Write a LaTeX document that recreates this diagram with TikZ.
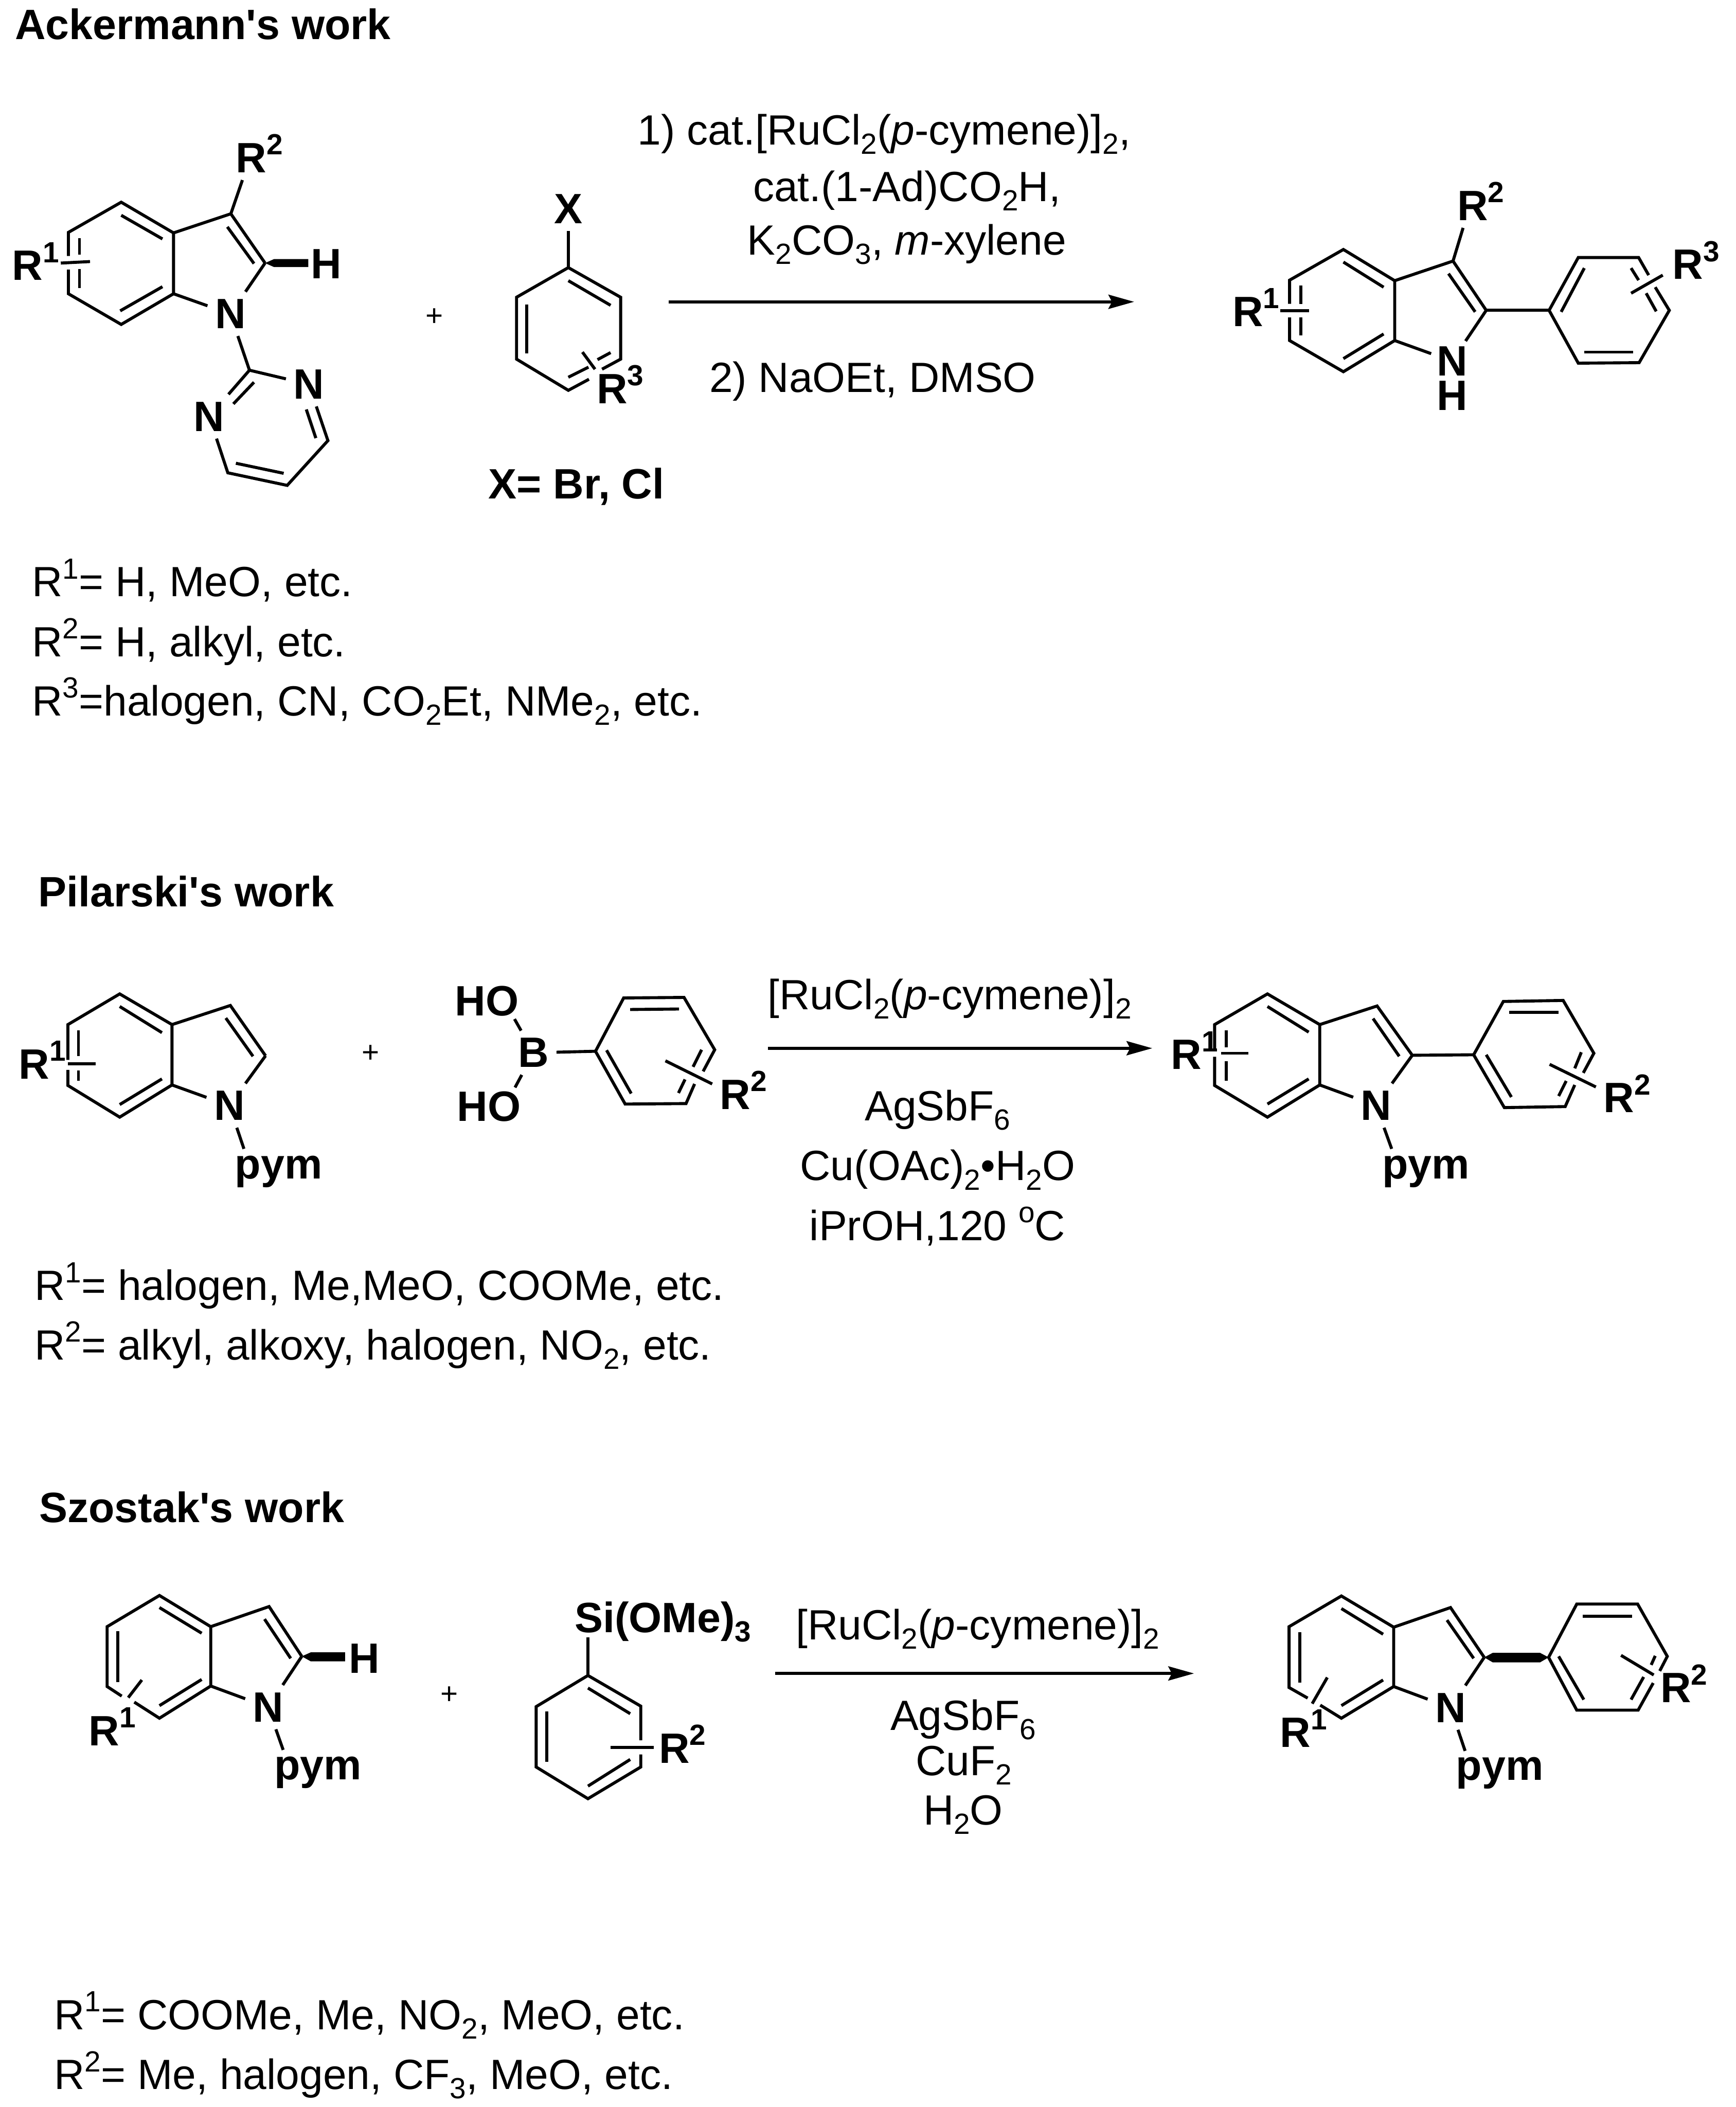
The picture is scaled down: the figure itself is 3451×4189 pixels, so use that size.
\documentclass[tikz,border=0pt]{standalone}
\usepackage{fontspec}
\setmainfont{Liberation Sans}
\usetikzlibrary{arrows.meta}

\newcommand{\chemplain}{\fontsize{23.9}{28}\selectfont}
\newcommand{\chembold}{\fontsize{24}{28}\selectfont\bfseries}
\newcommand{\subs}[1]{\raisebox{-0.22em}{\fontsize{16.5}{18}\selectfont #1}}
\newcommand{\sups}[1]{\raisebox{0.42em}{\fontsize{16.5}{18}\selectfont #1}}

\begin{document}
\begin{tikzpicture}[x=0.01cm,y=-0.01cm,line width=0.6mm,
  bond/.style={line join=miter},
  rxnarrow/.style={-{Stealth[length=0.51cm,width=0.28cm,inset=0.07cm]}},
  atom/.style={font=\chembold,text height=0.58cm,text depth=0cm,inner sep=0.12cm},
  heading/.style={font=\chembold,anchor=base west,inner sep=0pt},
  group/.style={font=\chembold,anchor=base,inner sep=0pt},
  reagent/.style={font=\chemplain,anchor=base,inner sep=0pt},
  note/.style={font=\chemplain,anchor=base west,inner sep=0pt},
  plus/.style={font=\fontsize{17}{20}\selectfont,inner sep=0pt}]

\useasboundingbox (0,0) rectangle (3451,4189);

\node[heading] (nodeHeadA) at (27,78) {Ackermann\textquotesingle s work};
\node[heading] (nodeHeadB) at (73,1802) {Pilarski\textquotesingle s work};
\node[heading] (nodeHeadC) at (75,3027) {Szostak\textquotesingle s work};

\coordinate (a1) at (241,402); \coordinate (b1) at (345,463); \coordinate (c1) at (345,584);
\coordinate (d1) at (241,645); \coordinate (e1) at (136,584); \coordinate (f1) at (136,462);
\coordinate (g1) at (459,425); \coordinate (h1) at (527,523);
\node[atom] (nodeN1) at (458,624) {N};
\node[atom] (nodeH1) at (649,525) {H};
\node[atom] (nodeR1a) at (71,528) {R\sups{1}};
\node[atom] (nodeR2a) at (516,314) {R\sups{2}};
\coordinate (r2a) at (482,358);
\draw[bond] (136,509) -- (f1) -- (a1) -- (b1) -- (c1) -- (d1) -- (e1) -- (136,536);
\draw[bond] (b1) -- (g1) -- (h1);
\draw[bond] (h1) -- (nodeN1);
\draw[bond] (c1) -- (nodeN1);
\draw[bond] (g1) -- (r2a);
\draw[bond] (241,428) -- (323,475);
\draw[bond] (239,618) -- (323,570);
\draw[bond] (158,474) -- (158,506);
\draw[bond] (158,535) -- (158,573);
\draw[bond] (452,451) -- (505,524);
\draw[bond] (121,523) -- (179,520);
\fill (h1) -- (545,515) -- (613,515) -- (613,531) -- (545,531) -- cycle;

\coordinate (p1) at (496,736); \coordinate (p2) at (652,876); \coordinate (p3) at (571,965); \coordinate (p4) at (453,940);
\node[atom] (nodeN2) at (614,764) {N};
\node[atom] (nodeN3) at (416,828) {N};
\draw[bond] (nodeN1) -- (p1);
\draw[bond] (p1) -- (nodeN2);
\draw[bond] (p1) -- (nodeN3);
\draw[bond] (nodeN2) -- (p2) -- (p3) -- (p4) -- (nodeN3);
\draw[bond] (505,760) -- (464,803);
\draw[bond] (609,814) -- (628,871);
\draw[bond] (564,941) -- (469,921);

\node[plus] (nodePlus1) at (864,631) {+};

\coordinate (x1) at (1130,532); \coordinate (x2) at (1234,591); \coordinate (x3) at (1234,714);
\coordinate (x4) at (1130,776); \coordinate (x5) at (1027,714); \coordinate (x6) at (1027,591);
\node[atom] (nodeX) at (1130,415) {X};
\node[atom] (nodeR3a) at (1233,773) {R\sups{3}};
\draw[bond] (nodeX) -- (x1);
\draw[bond] (1197,734) -- (x3) -- (x2) -- (x1) -- (x6) -- (x5) -- (x4) -- (1171,754);
\draw[bond] (1130,558) -- (1214,607);
\draw[bond] (1047,605) -- (1047,703);
\draw[bond] (1130,750) -- (1170,730);
\draw[bond] (1188,715) -- (1214,701);
\draw[bond] (1158,700) -- (1183,734);
\node[group] (nodeXeq) at (1146,991) {X= Br, Cl};

\node[reagent] (nodeCat1) at (1758,288) {1) cat.[RuCl\subs{2}(\textit{p}-cymene)]\subs{2},};
\node[reagent] (nodeCat2) at (1803,400) {cat.(1-Ad)CO\subs{2}H,};
\node[reagent] (nodeBase1) at (1803,507) {K\subs{2}CO\subs{3}, \textit{m}-xylene};
\node[reagent] (nodeBase2) at (1735,780) {2) NaOEt, DMSO};
\coordinate (w1) at (1330,600); \coordinate (w2) at (2255,600);
\draw[rxnarrow] (w1) -- (w2);

\coordinate (a2) at (2671,496); \coordinate (b2) at (2773,558); \coordinate (c2) at (2773,677);
\coordinate (d2) at (2671,739); \coordinate (e2) at (2564,677); \coordinate (f2) at (2564,557);
\coordinate (g2) at (2889,519); \coordinate (h2) at (2955,617);
\node[atom,inner sep=0.08cm] (nodeN4) at (2887,718) {N};
\node[atom,inner sep=0cm] (nodeH2) at (2887,787) {H};
\node[atom] (nodeR1b) at (2497,620) {R\sups{1}};
\node[atom] (nodeR2b) at (2944,409) {R\sups{2}};
\node[atom] (nodeR3b) at (3372,526) {R\sups{3}};
\coordinate (r2b) at (2909,453);
\draw[bond] (2564,604) -- (f2) -- (a2) -- (b2) -- (c2) -- (d2) -- (e2) -- (2564,631);
\draw[bond] (b2) -- (g2) -- (h2);
\draw[bond] (h2) -- (nodeN4);
\draw[bond] (c2) -- (nodeN4);
\draw[bond] (g2) -- (r2b);
\draw[bond] (2671,521) -- (2751,571);
\draw[bond] (2671,713) -- (2751,664);
\draw[bond] (2586,568) -- (2586,604);
\draw[bond] (2586,631) -- (2586,667);
\draw[bond] (2880,544) -- (2933,620);
\draw[bond] (2546,618) -- (2603,618);
\coordinate (q1) at (3080,617); \coordinate (q2) at (3138,512); \coordinate (q3) at (3258,512);
\coordinate (q4) at (3319,617); \coordinate (q5) at (3259,721); \coordinate (q6) at (3138,722);
\draw[bond] (h2) -- (q1);
\draw[bond] (3278,547) -- (q3) -- (q2) -- (q1) -- (q6) -- (q5) -- (q4) -- (3291,571);
\draw[bond] (3104,620) -- (3150,533);
\draw[bond] (3243,533) -- (3258,557);
\draw[bond] (3273,583) -- (3293,619);
\draw[bond] (3150,700) -- (3247,700);
\draw[bond] (3243,583) -- (3306,547);

\node[note] (nodeNoteA1) at (61,1186) {R\sups{1}= H, MeO, etc.};
\node[note] (nodeNoteA2) at (61,1305) {R\sups{2}= H, alkyl, etc.};
\node[note] (nodeNoteA3) at (61,1423) {R\sups{3}=halogen, CN, CO\subs{2}Et, NMe\subs{2}, etc.};

\coordinate (a3) at (238,1976); \coordinate (b3) at (342,2037); \coordinate (c3) at (342,2157);
\coordinate (d3) at (238,2221); \coordinate (e3) at (135,2158); \coordinate (f3) at (135,2037);
\coordinate (g3) at (458,1999); \coordinate (h3) at (528,2099);
\node[atom] (nodeN5) at (456,2198) {N};
\node[atom] (nodeR1c) at (84,2116) {R\sups{1}};
\node[group] (nodePym1) at (554,2343) {pym};
\coordinate (y1) at (485,2284);
\draw[bond] (135,2107) -- (f3) -- (a3) -- (b3) -- (c3) -- (d3) -- (e3) -- (135,2127);
\draw[bond] (b3) -- (g3) -- (h3);
\draw[bond] (h3) -- (nodeN5);
\draw[bond] (c3) -- (nodeN5);
\draw[bond] (nodeN5) -- (y1);
\draw[bond] (238,2001) -- (322,2053);
\draw[bond] (238,2196) -- (322,2145);
\draw[bond] (156,2048) -- (156,2100);
\draw[bond] (156,2128) -- (156,2149);
\draw[bond] (449,2024) -- (503,2100);
\draw[bond] (135,2115) -- (190,2115);

\node[plus] (nodePlus2) at (737,2095) {+};

\node[atom] (nodeHOa) at (968,1990) {HO};
\node[atom] (nodeHOb) at (972,2200) {HO};
\node[atom] (nodeB) at (1061,2093) {B};
\coordinate (o1) at (1023,2026); \coordinate (o2) at (1024,2162);
\coordinate (m1) at (1184,2090); \coordinate (m2) at (1240,1984); \coordinate (m3) at (1360,1983);
\coordinate (m4) at (1421,2087); \coordinate (m5) at (1364,2194); \coordinate (m6) at (1243,2195);
\node[atom] (nodeR2c) at (1478,2176) {R\sups{2}};
\draw[bond] (nodeB) -- (o1);
\draw[bond] (nodeB) -- (o2);
\draw[bond] (nodeB) -- (m1);
\draw[bond] (1398,2130) -- (m4) -- (m3) -- (m2) -- (m1) -- (m6) -- (m5) -- (1381,2155);
\draw[bond] (1206,2088) -- (1255,2174);
\draw[bond] (1253,2007) -- (1350,2006);
\draw[bond] (1395,2087) -- (1378,2121);
\draw[bond] (1362,2146) -- (1349,2173);
\draw[bond] (1323,2109) -- (1416,2155);

\node[reagent] (nodeCat3) at (1888,2007) {[RuCl\subs{2}(\textit{p}-cymene)]\subs{2}};
\node[reagent] (nodeAg1) at (1864,2228) {AgSbF\subs{6}};
\node[reagent] (nodeCu1) at (1864,2347) {Cu(OAc)\subs{2}•H\subs{2}O};
\node[reagent] (nodeSol1) at (1864,2466) {iPrOH,120 \sups{o}C};
\coordinate (w3) at (1527,2084); \coordinate (w4) at (2291,2084);
\draw[rxnarrow] (w3) -- (w4);

\coordinate (a4) at (2520,1976); \coordinate (b4) at (2624,2037); \coordinate (c4) at (2624,2157);
\coordinate (d4) at (2520,2221); \coordinate (e4) at (2415,2158); \coordinate (f4) at (2415,2037);
\coordinate (g4) at (2738,2000); \coordinate (h4) at (2808,2098);
\node[atom] (nodeN6) at (2736,2198) {N};
\node[atom] (nodeR1d) at (2375,2097) {R\sups{1}};
\node[atom] (nodeR2d) at (3235,2183) {R\sups{2}};
\node[group] (nodePym2) at (2835,2343) {pym};
\coordinate (y2) at (2767,2284);
\draw[bond] (2415,2088) -- (f4) -- (a4) -- (b4) -- (c4) -- (d4) -- (e4) -- (2415,2101);
\draw[bond] (b4) -- (g4) -- (h4);
\draw[bond] (h4) -- (nodeN6);
\draw[bond] (c4) -- (nodeN6);
\draw[bond] (nodeN6) -- (y2);
\draw[bond] (2520,2001) -- (2602,2052);
\draw[bond] (2520,2195) -- (2602,2145);
\draw[bond] (2438,2048) -- (2438,2082);
\draw[bond] (2438,2110) -- (2438,2149);
\draw[bond] (2730,2025) -- (2782,2100);
\draw[bond] (2428,2094) -- (2482,2094);
\coordinate (n1) at (2930,2097); \coordinate (n2) at (2989,1991); \coordinate (n3) at (3108,1989);
\coordinate (n4) at (3169,2094); \coordinate (n5) at (3112,2200); \coordinate (n6) at (2991,2202);
\draw[bond] (h4) -- (n1);
\draw[bond] (3148,2133) -- (n4) -- (n3) -- (n2) -- (n1) -- (n6) -- (n5) -- (3131,2157);
\draw[bond] (2955,2097) -- (3005,2181);
\draw[bond] (3001,2013) -- (3099,2013);
\draw[bond] (3144,2092) -- (3131,2124);
\draw[bond] (3114,2149) -- (3099,2179);
\draw[bond] (3081,2116) -- (3173,2161);

\node[note] (nodeNoteB1) at (66,2585) {R\sups{1}= halogen, Me,MeO, COOMe, etc.};
\node[note] (nodeNoteB2) at (66,2703) {R\sups{2}= alkyl, alkoxy, halogen, NO\subs{2}, etc.};

\coordinate (a5) at (317,3172); \coordinate (b5) at (419,3234); \coordinate (c5) at (419,3352);
\coordinate (d5) at (317,3416); \coordinate (e5) at (213,3353); \coordinate (f5) at (213,3234);
\coordinate (g5) at (535,3194); \coordinate (h5) at (600,3293);
\node[atom] (nodeN7) at (533,3394) {N};
\node[atom] (nodeH3) at (724,3297) {H};
\node[atom] (nodeR1e) at (223,3441) {R\sups{1}};
\node[group] (nodePym3) at (632,3538) {pym};
\coordinate (y3) at (563,3479);
\draw[bond] (242,3372) -- (e5) -- (f5) -- (a5) -- (b5) -- (c5) -- (d5) -- (267,3384);
\draw[bond] (b5) -- (g5) -- (h5);
\draw[bond] (h5) -- (nodeN7);
\draw[bond] (c5) -- (nodeN7);
\draw[bond] (nodeN7) -- (y3);
\draw[bond] (317,3196) -- (401,3247);
\draw[bond] (317,3391) -- (401,3339);
\draw[bond] (234,3243) -- (234,3344);
\draw[bond] (526,3219) -- (578,3297);
\draw[bond] (282,3340) -- (255,3375);
\fill (h5) -- (618,3285) -- (686,3285) -- (686,3303) -- (618,3303) -- cycle;

\node[plus] (nodePlus3) at (893,3370) {+};

\node[group] (nodeSi) at (1318,3245) {Si(OMe)\subs{3}};
\coordinate (s0) at (1169,3255);
\coordinate (s1) at (1169,3331); \coordinate (s2) at (1274,3392); \coordinate (s3) at (1274,3513);
\coordinate (s4) at (1169,3576); \coordinate (s5) at (1066,3513); \coordinate (s6) at (1066,3393);
\node[atom] (nodeR2e) at (1357,3476) {R\sups{2}};
\draw[bond] (s0) -- (s1);
\draw[bond] (1274,3460) -- (s2) -- (s1) -- (s6) -- (s5) -- (s4) -- (s3) -- (1274,3488);
\draw[bond] (1169,3356) -- (1253,3407);
\draw[bond] (1087,3403) -- (1087,3503);
\draw[bond] (1253,3498) -- (1169,3551);
\draw[bond] (1214,3474) -- (1300,3474);

\node[reagent] (nodeCat4) at (1944,3260) {[RuCl\subs{2}(\textit{p}-cymene)]\subs{2}};
\node[reagent] (nodeAg2) at (1915,3440) {AgSbF\subs{6}};
\node[reagent] (nodeCu2) at (1916,3530) {CuF\subs{2}};
\node[reagent] (nodeWater) at (1915,3628) {H\subs{2}O};
\coordinate (w5) at (1541,3327); \coordinate (w6) at (2374,3327);
\draw[rxnarrow] (w5) -- (w6);

\coordinate (a6) at (2667,3173); \coordinate (b6) at (2771,3235); \coordinate (c6) at (2771,3353);
\coordinate (d6) at (2667,3416); \coordinate (e6) at (2563,3355); \coordinate (f6) at (2563,3234);
\coordinate (g6) at (2884,3196); \coordinate (h6) at (2951,3295);
\node[atom] (nodeN8) at (2884,3395) {N};
\node[atom] (nodeR1f) at (2592,3445) {R\sups{1}};
\node[atom] (nodeR2f) at (3348,3356) {R\sups{2}};
\node[group] (nodePym4) at (2982,3539) {pym};
\coordinate (y4) at (2913,3481);
\draw[bond] (2600,3376) -- (e6) -- (f6) -- (a6) -- (b6) -- (c6) -- (d6) -- (2625,3390);
\draw[bond] (b6) -- (g6) -- (h6);
\draw[bond] (h6) -- (nodeN8);
\draw[bond] (c6) -- (nodeN8);
\draw[bond] (nodeN8) -- (y4);
\draw[bond] (2667,3198) -- (2750,3249);
\draw[bond] (2667,3391) -- (2750,3340);
\draw[bond] (2584,3245) -- (2584,3345);
\draw[bond] (2877,3221) -- (2930,3297);
\draw[bond] (2639,3335) -- (2609,3387);
\coordinate (k1) at (3079,3295); \coordinate (k2) at (3135,3189); \coordinate (k3) at (3256,3189);
\coordinate (k4) at (3315,3293); \coordinate (k5) at (3257,3400); \coordinate (k6) at (3135,3400);
\fill (h6) -- (2968,3286) -- (3062,3286) -- (k1) -- (3062,3305) -- (2968,3305) -- cycle;
\draw[bond] (3300,3322) -- (k4) -- (k3) -- (k2) -- (k1) -- (k6) -- (k5) -- (3287,3346);
\draw[bond] (3147,3213) -- (3245,3213);
\draw[bond] (3099,3293) -- (3149,3379);
\draw[bond] (3291,3292) -- (3283,3310);
\draw[bond] (3268,3334) -- (3243,3379);
\draw[bond] (3223,3291) -- (3288,3330);

\node[note] (nodeNoteC1) at (105,4035) {R\sups{1}= COOMe, Me, NO\subs{2}, MeO, etc.};
\node[note] (nodeNoteC2) at (105,4154) {R\sups{2}= Me, halogen, CF\subs{3}, MeO, etc.};

\end{tikzpicture}
\end{document}
